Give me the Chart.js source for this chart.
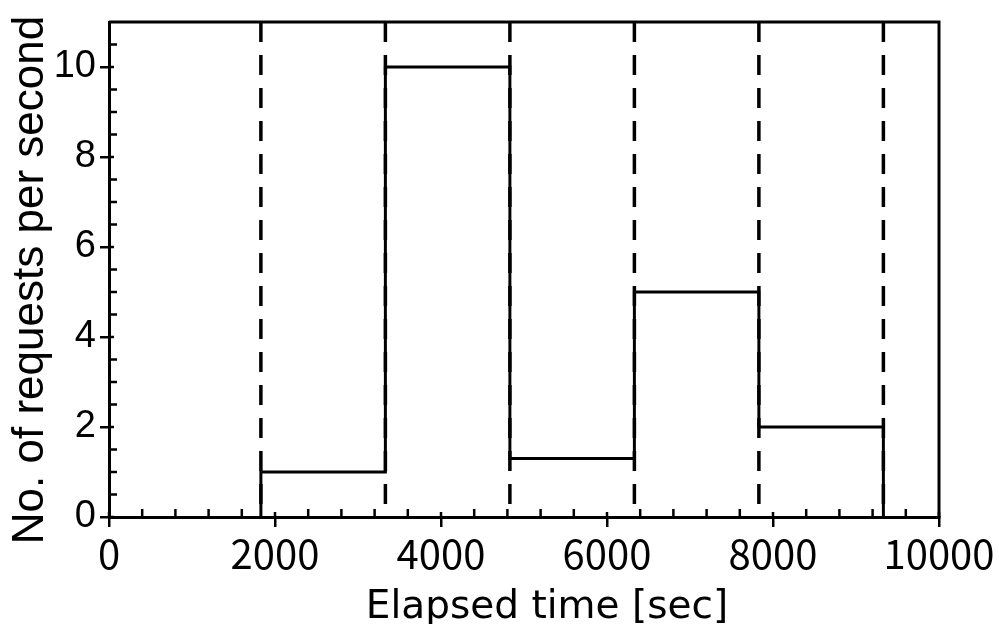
<!DOCTYPE html>
<html>
<head>
<meta charset="utf-8">
<script src="https://cdn.jsdelivr.net/npm/chart.js@4/dist/chart.umd.min.js"></script>
<style>
  html, body { margin: 0; padding: 0; background: #fff; }
  canvas { display: block; }
</style>
</head>
<body>
<canvas id="c" width="999" height="624"></canvas>
<script>
// Phase boundaries (sec) and the request rate held during each phase
const phaseStarts = [1830, 3330, 4830, 6330, 7830];
const phaseEnd = 9330;
const requestRates = [1, 10, 1.3, 5, 2];

// Axis ticks and titles
const xTicks = [0, 2000, 4000, 6000, 8000, 10000];
const yTicks = [0, 2, 4, 6, 8, 10];
const xMinorStep = 400;
const yMinorStep = 0.5;
const xRange = [0, 10000];
const yRange = [0, 11];
const xTitle = 'Elapsed time [sec]';
const yTitle = 'No. of requests per second';

// Step profile: rise at the first boundary, hold each rate, drop at the end
const stepPoints = [{ x: phaseStarts[0], y: 0 }];
phaseStarts.forEach((t, i) => stepPoints.push({ x: t, y: requestRates[i] }));
stepPoints.push({ x: phaseEnd, y: 0 });

// Dashed markers at every phase change
const boundaries = phaseStarts.concat([phaseEnd]);
const boundaryDatasets = boundaries.map(t => ({
  data: [{ x: t, y: yRange[1] }, { x: t, y: yRange[0] }],
  borderColor: '#000',
  borderWidth: 3.5,
  borderDash: [20, 13],
  borderCapStyle: 'butt',
  pointRadius: 0,
  fill: false,
  clip: false
}));

// Closes the frame (top/right), adds the inward tick marks and the axis titles
const frame = {
  id: 'frame',
  afterDatasetsDraw(chart) {
    const { ctx, chartArea: a, scales: { x, y } } = chart;
    ctx.save();
    ctx.strokeStyle = '#000';
    ctx.lineWidth = 3;
    ctx.lineCap = 'butt';
    ctx.beginPath();
    ctx.moveTo(a.left, a.top);
    ctx.lineTo(a.right, a.top);
    ctx.lineTo(a.right, a.bottom + 1.5);
    ctx.stroke();

    ctx.lineWidth = 2.5;
    ctx.beginPath();
    for (let v = xRange[0]; v <= xRange[1]; v += xMinorStep) {
      const px = x.getPixelForValue(v);
      const len = xTicks.includes(v) ? 5 : 8;
      ctx.moveTo(px, a.bottom);
      ctx.lineTo(px, a.bottom - len);
    }
    for (let v = yRange[0]; v < yRange[1]; v += yMinorStep) {
      const py = y.getPixelForValue(v);
      const len = yTicks.includes(v) ? 5 : 8;
      ctx.moveTo(a.left, py);
      ctx.lineTo(a.left + len, py);
    }
    ctx.stroke();

    // axis titles
    ctx.fillStyle = '#000';
    ctx.textBaseline = 'alphabetic';
    ctx.textAlign = 'center';
    ctx.font = '39px "DejaVu Sans"';
    ctx.fillText(xTitle, 547, 618);

    ctx.translate(43, 280);
    ctx.rotate(-Math.PI / 2);
    ctx.font = '44px "Liberation Sans"';
    ctx.fillText(yTitle, 0, 0);
    ctx.restore();
  }
};

new Chart(document.getElementById('c'), {
  type: 'line',
  data: {
    datasets: [
      {
        data: stepPoints,
        stepped: 'before',
        borderColor: '#000',
        borderWidth: 3,
        pointRadius: 0,
        fill: false
      },
      ...boundaryDatasets
    ]
  },
  options: {
    responsive: false,
    animation: false,
    layout: { padding: { top: 22, right: 60, bottom: 0, left: 0 } },
    plugins: { legend: { display: false }, tooltip: { enabled: false } },
    scales: {
      x: {
        type: 'linear',
        min: xRange[0],
        max: xRange[1],
        afterBuildTicks: s => { s.ticks = xTicks.map(v => ({ value: v })); },
        afterFit: s => { s.height = 107; s.paddingLeft = 0; s.paddingRight = 0; },
        grid: { drawOnChartArea: false, drawTicks: true, tickLength: 10, lineWidth: 2.5, color: '#000' },
        border: { display: true, width: 3, color: '#000' },
        ticks: {
          color: '#000',
          padding: 7,
          maxRotation: 0,
          autoSkip: false,
          callback: v => String(v),
          font: { family: '"Noto Sans CJK JP"', size: 40, lineHeight: 1 }
        },
        title: { display: false }
      },
      y: {
        type: 'linear',
        min: yRange[0],
        max: yRange[1],
        afterBuildTicks: s => { s.ticks = yTicks.map(v => ({ value: v })); },
        afterFit: s => { s.width = 109; s.paddingTop = 0; s.paddingBottom = 0; },
        grid: { drawOnChartArea: false, drawTicks: true, tickLength: 9, lineWidth: 2.5, color: '#000' },
        border: { display: true, width: 3, color: '#000' },
        ticks: {
          color: '#000',
          padding: 4,
          callback: v => String(v),
          font: { family: '"Liberation Sans"', size: 38, lineHeight: 1 }
        },
        title: { display: false }
      }
    }
  },
  plugins: [frame]
});
</script>
</body>
</html>
